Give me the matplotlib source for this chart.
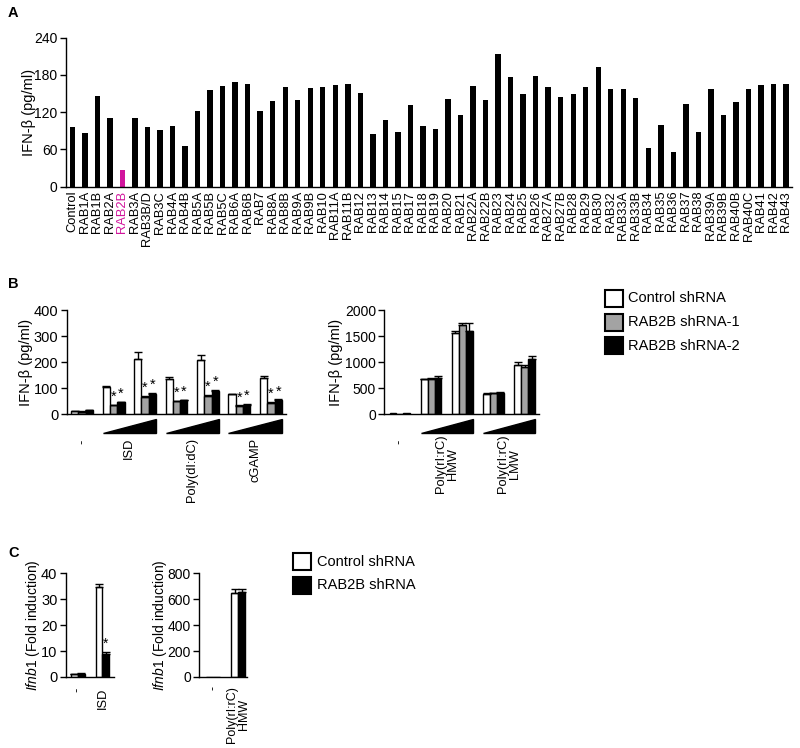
import matplotlib
matplotlib.use("Agg")
import matplotlib.pyplot as plt
import matplotlib.transforms as mtransforms
from matplotlib.patches import Polygon, Rectangle
import numpy as np

plt.rcParams['font.family'] = ['Liberation Sans', 'DejaVu Sans']
plt.rcParams['mathtext.fontset'] = 'custom'
plt.rcParams['mathtext.it'] = 'Liberation Sans:italic'
plt.rcParams['mathtext.rm'] = 'Liberation Sans'
plt.rcParams['axes.linewidth'] = 1.0
plt.rcParams['xtick.major.width'] = 1.0
plt.rcParams['ytick.major.width'] = 1.0

# ---------------- Data ----------------
a_labels = ["Control", "RAB1A", "RAB1B", "RAB2A", "RAB2B", "RAB3A", "RAB3B/D", "RAB3C",
            "RAB4A", "RAB4B", "RAB5A", "RAB5B", "RAB5C", "RAB6A", "RAB6B", "RAB7",
            "RAB8A", "RAB8B", "RAB9A", "RAB9B", "RAB10", "RAB11A", "RAB11B", "RAB12",
            "RAB13", "RAB14", "RAB15", "RAB17", "RAB18", "RAB19", "RAB20", "RAB21",
            "RAB22A", "RAB22B", "RAB23", "RAB24", "RAB25", "RAB26", "RAB27A", "RAB27B",
            "RAB28", "RAB29", "RAB30", "RAB32", "RAB33A", "RAB33B", "RAB34", "RAB35",
            "RAB36", "RAB37", "RAB38", "RAB39A", "RAB39B", "RAB40B", "RAB40C", "RAB41",
            "RAB42", "RAB43"]
a_values = [96, 86, 146, 110, 27, 110, 96, 91,
            97, 65, 122, 156, 162, 168, 166, 122,
            138, 160, 139, 159, 161, 164, 165, 151,
            85, 107, 88, 131, 97, 93, 141, 116,
            163, 139, 214, 177, 150, 178, 161, 144,
            149, 160, 192, 157, 158, 143, 62, 99,
            56, 133, 88, 158, 116, 136, 158, 164,
            166, 166]
a_highlight = "RAB2B"

b1_groups = ["-", "ISD", "Poly(dI:dC)", "cGAMP"]
b1_ctrl = [10, 105, 211, 134, 210, 76, 138]
b1_ctrl_err = [2, 3, 28, 10, 18, 3, 7]
b1_sh1 = [9, 33, 66, 49, 71, 31, 44]
b1_sh1_err = [1, 2, 4, 3, 3, 2, 3]
b1_sh2 = [14, 45, 78, 53, 90, 36, 54]
b1_sh2_err = [1, 2, 3, 2, 3, 2, 2]

b2_groups = ["-", "Poly(rI:rC)\nHMW", "Poly(rI:rC)\nLMW"]
b2_ctrl = [12, 669, 1556, 392, 952]
b2_ctrl_err = [3, 10, 40, 8, 45]
b2_sh1 = [8, 675, 1717, 399, 913]
b2_sh1_err = [3, 15, 30, 8, 40]
b2_sh2 = [12, 695, 1601, 405, 1061]
b2_sh2_err = [3, 35, 150, 10, 64]

c1_groups = ["-", "ISD"]
c1_ctrl = [1.0, 34.6]
c1_ctrl_err = [0.2, 1.2]
c1_sh = [1.3, 8.7]
c1_sh_err = [0.2, 1.0]

c2_groups = ["-", "Poly(rI:rC)\nHMW"]
c2_ctrl = [1, 646]
c2_ctrl_err = [0, 31]
c2_sh = [1, 653]
c2_sh_err = [0, 23]

legend_b = ["Control shRNA", "RAB2B shRNA-1", "RAB2B shRNA-2"]
legend_c = ["Control shRNA", "RAB2B shRNA"]

# ---------------- Style ----------------
W, H = 800, 748
MAGENTA = "#d1149c"
GRAY = "#a3a3a3"
LAB_FS = 10.5
GRP_FS = 9.3

fig = plt.figure(figsize=(W / 100, H / 100), dpi=100)


def ax_px(x0, x1, ytop, ybot):
    return fig.add_axes([x0 / W, 1 - ybot / H, (x1 - x0) / W, (ybot - ytop) / H])


def style(ax, fs):
    for s in ("top", "right"):
        ax.spines[s].set_visible(False)
    ax.tick_params(axis="y", direction="out", length=4, width=1, labelsize=fs, pad=2)
    ax.tick_params(axis="x", length=0)


def errbars(ax, x, y, e):
    ax.errorbar(x, y, yerr=[np.zeros(len(e)), e], fmt="none", ecolor="black",
                elinewidth=1, capsize=3, capthick=1, zorder=3)


# ---------------- Panel A ----------------
axA = ax_px(65.7, 791.7, 37.7, 186.7)
style(axA, 10)
xa = np.arange(len(a_labels))
cols = [MAGENTA if l == a_highlight else "black" for l in a_labels]
axA.bar(xa, a_values, width=0.43, color=cols, edgecolor="none")
axA.set_xlim(-0.53, len(a_labels) - 1 + 0.45)
axA.set_ylim(0, 240)
axA.set_yticks([0, 60, 120, 180, 240])
axA.set_xticks(xa)
axA.set_xticklabels(a_labels, rotation=90, fontsize=9.3)
axA.tick_params(axis="x", pad=3)
for t, l in zip(axA.get_xticklabels(), a_labels):
    if l == a_highlight:
        t.set_color(MAGENTA)
axA.set_ylabel("IFN-β (pg/ml)", fontsize=LAB_FS)
axA.yaxis.set_label_coords(-0.041, 0.5)

# ---------------- Panel B left ----------------
axB1 = ax_px(66.7, 286, 310.3, 414)
style(axB1, 10.5)
w = 0.232
xb = np.arange(len(b1_ctrl))
axB1.bar(xb - w, b1_ctrl, width=w, color="white", edgecolor="black", linewidth=1, zorder=2)
axB1.bar(xb, b1_sh1, width=w, color=GRAY, edgecolor="black", linewidth=1, zorder=2)
axB1.bar(xb + w, b1_sh2, width=w, color="black", edgecolor="black", linewidth=1, zorder=2)
errbars(axB1, xb - w, b1_ctrl, b1_ctrl_err)
errbars(axB1, xb, b1_sh1, b1_sh1_err)
errbars(axB1, xb + w, b1_sh2, b1_sh2_err)
for i in range(1, len(xb)):
    for dx, v, e in ((0, b1_sh1[i], b1_sh1_err[i]), (w, b1_sh2[i], b1_sh2_err[i])):
        axB1.text(xb[i] + dx, v + e + 4, "*", ha="center", va="bottom", fontsize=10.5)
axB1.set_xlim(-0.49, 6.48)
axB1.set_ylim(0, 400)
axB1.set_yticks([0, 100, 200, 300, 400])
axB1.set_xticks([])
axB1.set_ylabel("IFN-β (pg/ml)", fontsize=LAB_FS)
axB1.yaxis.set_label_coords(-0.155, 0.5)
trB1 = mtransforms.blended_transform_factory(axB1.transData, axB1.transAxes)
for g in range(3):
    x0 = 1 + 2 * g - 1.5 * w
    x1 = 2 + 2 * g + 1.5 * w
    axB1.add_patch(Polygon([[x0, -0.185], [x1, -0.185], [x1, -0.05]], closed=True,
                           facecolor="black", edgecolor="black", transform=trB1,
                           clip_on=False))
axB1.text(0, -0.25, b1_groups[0], rotation=90, ha="center", va="top", fontsize=GRP_FS,
          transform=trB1)
for g in range(3):
    axB1.text(1.5 + 2 * g, -0.23, b1_groups[g + 1], rotation=90, ha="center", va="top",
              fontsize=GRP_FS, transform=trB1)

# ---------------- Panel B right ----------------
axB2 = ax_px(384.3, 539.3, 310.3, 414)
style(axB2, 10)
w2 = 0.22
xb2 = np.arange(len(b2_ctrl))
axB2.bar(xb2 - w2, b2_ctrl, width=w2, color="white", edgecolor="black", linewidth=1, zorder=2)
axB2.bar(xb2, b2_sh1, width=w2, color=GRAY, edgecolor="black", linewidth=1, zorder=2)
axB2.bar(xb2 + w2, b2_sh2, width=w2, color="black", edgecolor="black", linewidth=1, zorder=2)
errbars(axB2, (xb2 - w2)[1:], b2_ctrl[1:], b2_ctrl_err[1:])
errbars(axB2, xb2[1:], b2_sh1[1:], b2_sh1_err[1:])
errbars(axB2, (xb2 + w2)[1:], b2_sh2[1:], b2_sh2_err[1:])
axB2.set_xlim(-0.5, 4.47)
axB2.set_ylim(0, 2000)
axB2.set_yticks([0, 500, 1000, 1500, 2000])
axB2.set_xticks([])
axB2.set_ylabel("IFN-β (pg/ml)", fontsize=LAB_FS)
axB2.yaxis.set_label_coords(-0.265, 0.5)
trB2 = mtransforms.blended_transform_factory(axB2.transData, axB2.transAxes)
for g in range(2):
    x0 = 1 + 2 * g - 1.5 * w2
    x1 = 2 + 2 * g + 1.5 * w2
    axB2.add_patch(Polygon([[x0, -0.185], [x1, -0.185], [x1, -0.05]], closed=True,
                           facecolor="black", edgecolor="black", transform=trB2,
                           clip_on=False))
axB2.text(0, -0.25, b2_groups[0], rotation=90, ha="center", va="top", fontsize=GRP_FS,
          transform=trB2)
for g in range(2):
    axB2.text(1.5 + 2 * g, -0.2, b2_groups[g + 1], rotation=90, ha="center", va="top",
              fontsize=GRP_FS, multialignment="center", linespacing=1.0, transform=trB2)

# Legend B
for i, (lab, fc) in enumerate(zip(legend_b, ["white", GRAY, "black"])):
    ytop = 290 + i * 23.5
    fig.add_artist(Rectangle((605 / W, 1 - (ytop + 17) / H), 18 / W, 17 / H,
                             facecolor=fc, edgecolor="black", linewidth=1.5,
                             transform=fig.transFigure))
    fig.text(628 / W, 1 - (ytop + 8.5) / H, lab, ha="left", va="center", fontsize=10.5)

# ---------------- Panel C left ----------------
axC1 = ax_px(65.7, 114, 573.3, 677)
style(axC1, 10.5)
wc = 0.28
xc = np.arange(len(c1_ctrl))
axC1.bar(xc - wc / 2, c1_ctrl, width=wc, color="white", edgecolor="black", linewidth=1, zorder=2)
axC1.bar(xc + wc / 2, c1_sh, width=wc, color="black", edgecolor="black", linewidth=1, zorder=2)
errbars(axC1, xc - wc / 2, c1_ctrl, c1_ctrl_err)
errbars(axC1, xc + wc / 2, c1_sh, c1_sh_err)
axC1.text(1 + wc / 2, c1_sh[1] + c1_sh_err[1] + 0.3, "*", ha="center", va="bottom", fontsize=10)
axC1.set_xlim(-0.49, 1.47)
axC1.set_ylim(0, 40)
axC1.set_yticks([0, 10, 20, 30, 40])
axC1.set_xticks([])
axC1.set_ylabel(r"$\mathit{Ifnb1}$ (Fold induction)", fontsize=10)
axC1.yaxis.set_label_coords(-0.5, 0.5)
trC1 = mtransforms.blended_transform_factory(axC1.transData, axC1.transAxes)
for g, lab in enumerate(c1_groups):
    axC1.text(g, -0.1, lab, rotation=90, ha="center", va="top", fontsize=GRP_FS, transform=trC1)

# ---------------- Panel C right ----------------
axC2 = ax_px(199.3, 247, 573.3, 677)
style(axC2, 10)
axC2.bar(xc - wc / 2, c2_ctrl, width=wc, color="white", edgecolor="black", linewidth=1, zorder=2)
axC2.bar(xc + wc / 2, c2_sh, width=wc, color="black", edgecolor="black", linewidth=1, zorder=2)
errbars(axC2, (xc - wc / 2)[1:], c2_ctrl[1:], c2_ctrl_err[1:])
errbars(axC2, (xc + wc / 2)[1:], c2_sh[1:], c2_sh_err[1:])
axC2.set_xlim(-0.55, 1.35)
axC2.set_ylim(0, 800)
axC2.set_yticks([0, 200, 400, 600, 800])
axC2.set_xticks([])
axC2.set_ylabel(r"$\mathit{Ifnb1}$ (Fold induction)", fontsize=10)
axC2.yaxis.set_label_coords(-0.63, 0.5)
trC2 = mtransforms.blended_transform_factory(axC2.transData, axC2.transAxes)
for g, lab in enumerate(c2_groups):
    axC2.text(g, -0.09, lab, rotation=90, ha="center", va="top", fontsize=9.0,
              multialignment="center", linespacing=1.0, transform=trC2)

# Legend C
for i, (lab, fc) in enumerate(zip(legend_c, ["white", "black"])):
    ytop = 553 + i * 23.5
    fig.add_artist(Rectangle((293 / W, 1 - (ytop + 17) / H), 18 / W, 17 / H,
                             facecolor=fc, edgecolor="black", linewidth=1.5,
                             transform=fig.transFigure))
    fig.text(317 / W, 1 - (ytop + 8.5) / H, lab, ha="left", va="center", fontsize=10.5)

# Panel letters
for letter, py in (("A", 13), ("B", 284), ("C", 553)):
    fig.text(8 / W, 1 - py / H, letter, fontsize=10.5, fontweight="bold", ha="left", va="center")

fig.savefig("out.png", dpi=100)
